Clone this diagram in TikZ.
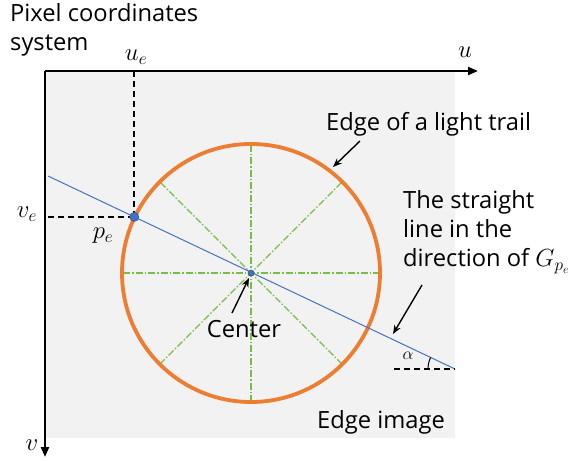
\documentclass[tikz,border=0pt]{standalone}
\usepackage{fontspec}
\setmainfont{Open Sans}
\usepackage{tikz}
\usetikzlibrary{arrows.meta, positioning, calc}
\definecolor{myorange}{RGB}{237,125,49}
\definecolor{myblue}{RGB}{68,114,196}
\definecolor{mydarkblue}{RGB}{47,82,143}
\definecolor{mygreen}{RGB}{120,190,70}
\definecolor{mygray}{RGB}{242,242,242}
\tikzset{
  axisarrow/.style={-{Triangle[length=10bp,width=8bp]}, line width=2.2bp},
  guide/.style={line width=1.6bp, dash pattern=on 6bp off 4bp},
  spoke/.style={draw=mygreen, line width=1.1bp, dash pattern=on 7bp off 2bp on 1.5bp off 2bp},
  pointer/.style={-{Stealth[length=9bp,width=7bp]}, line width=1.4bp},
  txt/.style={font=\fontsize{23.8}{29.5}\selectfont, align=left, inner sep=0pt},
  mathlbl/.style={font=\fontsize{27}{30}\selectfont, inner sep=0pt}
}

\begin{document}
\begin{tikzpicture}[x=1bp, y=-1bp]
  \useasboundingbox (0,0) rectangle (568,461);
  % ── Edge image background ─────────────────────────────────────────────
  \fill[mygray] (45,71) rectangle (455,438);

  % ── Axes ──────────────────────────────────────────────────────────────
  \coordinate (O) at (45,71);
  \coordinate (uend) at (478,71);
  \coordinate (vend) at (45,457);
  \draw[axisarrow] (O) -- (uend);
  \draw[axisarrow] (O) -- (vend);
  \node[mathlbl] (ulbl) at (465,52) {$u$};
  \node[mathlbl] (vlbl) at (32,445) {$v$};

  % ── Light trail edge ──────────────────────────────────────────────────
  \coordinate (C) at (251,273);
  \foreach \a in {0,45,90,135}
    \path[spoke] ($(C)+(\a:129)$) -- ($(C)+(\a+180:129)$);
  \draw[myorange, line width=3.8bp] (C) circle (129);

  % ── Straight line through p_e ─────────────────────────────────────────
  \coordinate (lstart) at (48,176);
  \coordinate (lend) at (455,369);
  \coordinate (pe) at ($(lstart)!0.212!(lend)$);
  \draw[myblue, line width=1bp] (lstart) -- (lend);

  % guides for u_e and v_e
  \draw[guide] (pe) -- (pe |- O);
  \draw[guide] (pe) -- (pe -| O);
  \node[mathlbl] (uelbl) at (136,57) {$u_e$};
  \node[mathlbl] (velbl) at (27,214) {$v_e$};
  \node[mathlbl] (pelbl) at (103,236) {$p_e$};

  \fill[myblue, draw=mydarkblue, line width=0.6bp] (pe) circle (4.5);
  \fill[myblue, draw=mydarkblue, line width=0.5bp] (C) circle (3);

  % ── Angle alpha ───────────────────────────────────────────────────────
  \coordinate (aend) at (394,369);
  \draw[guide] (aend) -- (lend);
  \draw[line width=1bp] ($(lend)+(-27,0)$) arc[start angle=180, end angle=205, radius=27];
  \node[font=\fontsize{18}{20}\selectfont, inner sep=0pt] (alpha) at (408,356) {$\alpha$};

  % ── Labels ────────────────────────────────────────────────────────────
  \node[txt, anchor=north west] (title) at (10,3) {Pixel coordinates\\system};
  \node[txt, anchor=base west] (edgelbl) at (326,131) {Edge of a light trail};
  \node[txt, anchor=north west] (linelbl) at (403,190) {The straight\\line in the\\direction of {\fontsize{24}{29.5}\selectfont$G_{p_e}$}};
  \node[txt, anchor=base] (centerlbl) at (244,337) {Center};
  \node[txt, anchor=base] (imglbl) at (381,428) {Edge image};

  % ── Pointers ──────────────────────────────────────────────────────────
  \coordinate (edgetail) at (360,141);
  \coordinate (edgetip) at (333,167);
  \draw[pointer] (edgetail) -- (edgetip);
  \coordinate (linetail) at (422,285);
  \coordinate (linetip) at (393,334);
  \draw[pointer] (linetail) -- (linetip);
  \coordinate (centertail) at (232,313);
  \coordinate (centertip) at (249,278);
  \draw[pointer] (centertail) -- (centertip);
\end{tikzpicture}
\end{document}
